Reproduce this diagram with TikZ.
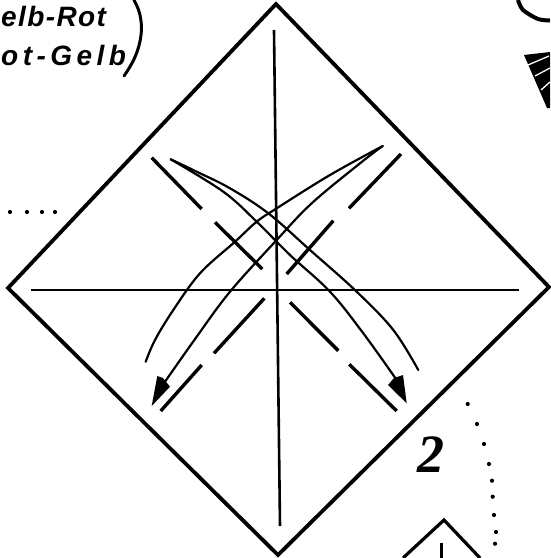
\documentclass[tikz,border=0pt]{standalone}
\usepackage{fontspec}
\setmainfont{Liberation Sans}
\newfontfamily\handA[LetterSpace=5]{Liberation Sans}
\newfontfamily\handB[LetterSpace=16]{Liberation Sans}
\newfontfamily\twofont{Liberation Serif}
\begin{document}
\begin{tikzpicture}[x=1pt,y=-1pt,
  edge/.style={line width=3.8pt},
  crease/.style={line width=2.6pt},
  dashseg/.style={line width=3.4pt},
  swoop/.style={line width=2.2pt,line cap=round,line join=round},
  dotmark/.style={fill=black,circle,inner sep=0pt,minimum size=4.2pt},
  hand/.style={inner sep=0pt,anchor=base west,font=\fontsize{28}{28}\selectfont\itshape\bfseries}]
\useasboundingbox (0,0) rectangle (550,558);
% outer square
\coordinate (T) at (276,4); \coordinate (L) at (8,288);
\coordinate (B) at (278,555); \coordinate (R) at (549,287);
\draw[edge,line join=miter] (T) -- (L) -- (B) -- (R) -- cycle;
% creases
\draw[crease] (274,30) -- (280,526);
\draw[crease] (31,290) -- (519,290);
% dashed diagonals
\foreach \a/\b/\c/\d in {151.7/157.7/201.7/209, 215/222.3/262.3/269, 290/302.3/338.3/350.7, 349.3/364.3/396.7/411,
  401/154/349/208.3, 333.3/220.7/286.7/274, 264.3/298.3/214/353.3, 201.7/365/160.7/411}
  \draw[dashseg] (\a,\b) -- (\c,\d);
% right-hand swoop
\draw[swoop] plot[smooth,tension=.6] coordinates {(170.7,159.3) (196.7,171.7) (230,188.3) (268.3,213.3) (310,250) (356.7,291.7) (393.3,330) (418.3,370)};
\draw[swoop] plot[smooth,tension=.6] coordinates {(170.7,159.3) (223.3,191.7) (256.7,221.7) (290,255) (330,291.7) (363.3,333.3) (396.7,380)};
\fill (406.7,403.3) -- (388,385) -- (394,378) -- (403,375) -- cycle;
% left-hand swoop
\draw[swoop] plot[smooth,tension=.6] coordinates {(382.7,146) (330,175) (276.7,208.3) (256.7,221.7) (235,241.7) (200,273.3) (173.3,310) (155,340) (145.7,361.7)};
\draw[swoop] plot[smooth,tension=.6] coordinates {(382.7,146) (360,163.3) (311.7,203.3) (276.7,240) (230,291.7) (196.7,336.7) (165,381.7)};
\fill (151.7,406) -- (157.3,376) -- (163,378) -- (170,386.7) -- cycle;
% handwritten text, top left
\node[hand] (lineA) at (1,26) {\handA elb-Rot};
\node[hand] (lineB) at (1,65) {\handB ot-Gelb};
\draw[line width=3pt,line cap=round] plot[smooth,tension=.7] coordinates {(134,0) (140,15) (141,35) (135,57) (124,76)};
% dots, left
\foreach \x in {10,27,42,55} \node[dotmark] at (\x,212) {};
% top right arc
\draw[line width=4pt] plot[smooth] coordinates {(518,0) (523,10) (538,19) (550,20.5)};
% top right hatched wedge
\fill (524,55) -- (550,52) -- (550,108) -- (547,108) -- cycle;
\foreach \a/\b/\c/\d in {528/65/549/56, 535/76/550/68, 541/90/550/82}
  \draw[white,line width=1.3pt] (\a,\b) -- (\c,\d);
% the 2
\node[inner sep=0pt,font=\twofont\fontsize{54}{54}\selectfont\itshape\bfseries] (two) at (431,455) {2};
% dots, right
\foreach \x/\y in {467.7/404,477/424,484/444,489/464,492/480.7,492.7/496.7,494/515,496/532,495/543.7}
  \node[dotmark] at (\x,\y) {};
% small square at bottom
\draw[edge,line width=3.2pt] (403,558) -- (444,520) -- (480,558);
\draw[crease] (441.7,542.7) -- (441.7,558);
\end{tikzpicture}
\end{document}
